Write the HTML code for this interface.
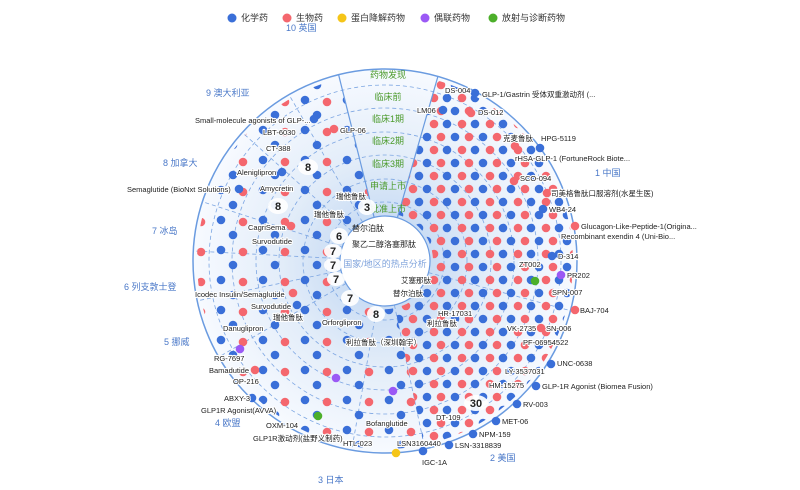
<!DOCTYPE html>
<html><head><meta charset="utf-8"><style>
html,body{margin:0;padding:0;background:#fff;width:800px;height:490px;overflow:hidden}
svg{display:block;font-family:"Liberation Sans","Noto Sans CJK SC",sans-serif}
.l{font-size:7.5px;fill:#222;stroke:#fff;stroke-width:2.2px;paint-order:stroke;stroke-linejoin:round}
.c{font-size:9px;fill:#4a78c8}
.s{font-size:9px;fill:#4a9a2a;text-anchor:middle}
.b{font-size:11px;font-weight:bold;fill:#222;text-anchor:middle}
</style></head><body>
<svg width="800" height="490" viewBox="0 0 800 490">
<defs>
<radialGradient id="rg" cx="385" cy="261" r="192" gradientUnits="userSpaceOnUse">
<stop offset="0.22" stop-color="#c9dcf4"/><stop offset="0.55" stop-color="#e3edf9"/><stop offset="1" stop-color="#f7faff"/>
</radialGradient>
<pattern id="pd" x="0" y="0" width="28" height="26" patternUnits="userSpaceOnUse">
<circle cx="7" cy="7" r="4.3" fill="#3a6fd8"/><circle cx="21" cy="7" r="4.3" fill="#f4676e"/>
<circle cx="14" cy="20" r="4.3" fill="#f4676e"/><circle cx="27" cy="20" r="4.3" fill="#3a6fd8"/><circle cx="-1" cy="20" r="4.3" fill="#3a6fd8"/>
</pattern>
<pattern id="ps" x="3" y="2" width="42" height="30" patternUnits="userSpaceOnUse">
<circle cx="8" cy="8" r="4.3" fill="#3a6fd8"/><circle cx="30" cy="10" r="4.3" fill="#f4676e"/><circle cx="20" cy="23" r="4.3" fill="#3a6fd8"/>
</pattern>
</defs>
<g font-size="9" fill="#333">
<circle cx="232" cy="18" r="4.5" fill="#3a6fd8"/><text x="241" y="21">化学药</text>
<circle cx="287" cy="18" r="4.5" fill="#f4676e"/><text x="296" y="21">生物药</text>
<circle cx="342" cy="18" r="4.5" fill="#f5c518"/><text x="351" y="21">蛋白降解药物</text>
<circle cx="425" cy="18" r="4.5" fill="#9b59f5"/><text x="434" y="21">偶联药物</text>
<circle cx="493" cy="18" r="4.5" fill="#4caf2a"/><text x="502" y="21">放射与诊断药物</text>
</g>
<circle cx="385" cy="261" r="192" fill="url(#rg)" stroke="#6a9be0" stroke-width="1.5"/>
<g fill="none" stroke="#7da6e2" stroke-width="0.8" stroke-dasharray="4,3">
<circle cx="385" cy="261" r="59"/><circle cx="385" cy="261" r="82"/><circle cx="385" cy="261" r="106"/>
<circle cx="385" cy="261" r="129"/><circle cx="385" cy="261" r="153"/><circle cx="385" cy="261" r="176"/>
<line x1="428.5" y1="272.6" x2="570.5" y2="310.7"/>
<line x1="394.4" y1="305" x2="424.9" y2="448.8"/>
<line x1="377.2" y1="305.3" x2="351.7" y2="450.1"/>
<line x1="346" y1="283.5" x2="218.7" y2="357"/>
<line x1="341" y1="270.4" x2="197.2" y2="300.9"/>
<line x1="340.1" y1="258.6" x2="193.3" y2="251"/>
<line x1="342.2" y1="247.1" x2="202.4" y2="201.7"/>
<line x1="351.6" y1="230.9" x2="242.3" y2="132.5"/>
<line x1="362.5" y1="222" x2="289" y2="94.7"/>
</g>
<path d="M398.2 214.9 L436.8 80.3 A188 188 0 0 1 424.1 444.9 L395 308 A48 48 0 0 0 398.2 214.9 Z" fill="url(#pd)"/>
<path d="M395 308 L424.1 444.9 A188 188 0 0 1 339.5 78.6 L373.4 214.4 A48 48 0 0 0 395 308 Z" fill="url(#ps)"/>
<g stroke="#6a9be0" stroke-width="1.2">
<line x1="374.1" y1="217.3" x2="338.6" y2="74.7"/><line x1="397.4" y1="217.7" x2="437.9" y2="76.4"/>
</g>
<circle cx="385" cy="261" r="45" fill="#fff" stroke="#6a9be0" stroke-width="1.2"/>
<g>
<circle cx="475" cy="93" r="4.3" fill="#3a6fd8"/><circle cx="471" cy="113" r="4.3" fill="#f4676e"/><circle cx="443" cy="110" r="4.3" fill="#3a6fd8"/>
<circle cx="515" cy="146" r="4.3" fill="#f4676e"/><circle cx="540" cy="148" r="4.3" fill="#3a6fd8"/><circle cx="514" cy="181" r="4.3" fill="#f4676e"/>
<circle cx="547" cy="193" r="4.3" fill="#f4676e"/><circle cx="543" cy="209" r="4.3" fill="#3a6fd8"/><circle cx="575" cy="226" r="4.3" fill="#f4676e"/>
<circle cx="552" cy="256" r="4.3" fill="#3a6fd8"/><circle cx="561" cy="275" r="4.3" fill="#9b59f5"/><circle cx="535" cy="281" r="4.3" fill="#4caf2a"/>
<circle cx="575" cy="310" r="4.3" fill="#f4676e"/><circle cx="541" cy="328" r="4.3" fill="#f4676e"/><circle cx="551" cy="364" r="4.3" fill="#3a6fd8"/>
<circle cx="536" cy="386" r="4.3" fill="#3a6fd8"/><circle cx="517" cy="404" r="4.3" fill="#3a6fd8"/><circle cx="496" cy="421" r="4.3" fill="#3a6fd8"/>
<circle cx="473" cy="434" r="4.3" fill="#3a6fd8"/><circle cx="449" cy="445" r="4.3" fill="#3a6fd8"/><circle cx="423" cy="451" r="4.3" fill="#3a6fd8"/>
<circle cx="396" cy="453" r="4.3" fill="#f5c518"/><circle cx="314" cy="119" r="4.3" fill="#3a6fd8"/><circle cx="334" cy="129" r="4.3" fill="#f4676e"/>
<circle cx="282" cy="172" r="4.3" fill="#3a6fd8"/><circle cx="239" cy="189" r="4.3" fill="#3a6fd8"/><circle cx="291" cy="226" r="4.3" fill="#f4676e"/>
<circle cx="293" cy="293" r="4.3" fill="#f4676e"/><circle cx="297" cy="305" r="4.3" fill="#3a6fd8"/><circle cx="240" cy="349" r="4.3" fill="#9b59f5"/>
<circle cx="255" cy="370" r="4.3" fill="#f4676e"/><circle cx="252" cy="398" r="4.3" fill="#3a6fd8"/><circle cx="318" cy="416" r="4.3" fill="#4caf2a"/>
<circle cx="336" cy="378" r="4.3" fill="#9b59f5"/><circle cx="393" cy="391" r="4.3" fill="#9b59f5"/>
</g>
<text class="s" x="388" y="78">药物发现</text>
<text class="s" x="388" y="100">临床前</text>
<text class="s" x="388" y="122">临床1期</text>
<text class="s" x="388" y="144">临床2期</text>
<text class="s" x="388" y="167">临床3期</text>
<text class="s" x="388" y="189">申请上市</text>
<text class="s" x="388" y="212">批准上市</text>
<text class="c" x="595" y="176">1 中国</text>
<text class="c" x="490" y="461">2 美国</text>
<text class="c" x="318" y="483">3 日本</text>
<text class="c" x="215" y="426">4 欧盟</text>
<text class="c" x="164" y="345">5 挪威</text>
<text class="c" x="124" y="290">6 列支敦士登</text>
<text class="c" x="152" y="234">7 冰岛</text>
<text class="c" x="163" y="166">8 加拿大</text>
<text class="c" x="206" y="96">9 澳大利亚</text>
<text class="c" x="286" y="31">10 英国</text>
<text x="368" y="231" font-size="8" text-anchor="middle" fill="#222">替尔泊肽</text>
<text x="384" y="247" font-size="8" text-anchor="middle" fill="#222">聚乙二醇洛塞那肽</text>
<text x="385" y="267" font-size="9" text-anchor="middle" fill="#7fa3dc">国家/地区的热点分析</text>
<g fill="#fff" opacity="0.92">
<ellipse cx="367" cy="207" rx="9" ry="8"/><ellipse cx="339" cy="236" rx="9" ry="8"/><ellipse cx="333" cy="251" rx="9" ry="7"/>
<ellipse cx="333" cy="265" rx="9" ry="7"/><ellipse cx="336" cy="279" rx="9" ry="7"/><ellipse cx="350" cy="298" rx="9" ry="8"/>
<ellipse cx="376" cy="314" rx="9" ry="8"/><ellipse cx="308" cy="167" rx="10" ry="8"/><ellipse cx="278" cy="206" rx="10" ry="8"/>
<ellipse cx="476" cy="403" rx="12" ry="8"/>
</g>
<g class="b">
<text x="367" y="211">3</text><text x="339" y="240">6</text><text x="333" y="255">7</text><text x="333" y="269">7</text>
<text x="336" y="283">7</text><text x="350" y="302">7</text><text x="376" y="318">8</text><text x="308" y="171">8</text>
<text x="278" y="210">8</text><text x="476" y="407">30</text>
</g>
<g class="l">
<text x="445" y="93">DS-004</text><text x="482" y="97">GLP-1/Gastrin 受体双重激动剂 (...</text>
<text x="417" y="113">LM06</text><text x="478" y="115">DS-012</text>
<text x="503" y="141">克麦鲁肽</text><text x="541" y="141">HPG-5119</text>
<text x="515" y="161">rHSA-GLP-1 (FortuneRock Biote...</text>
<text x="520" y="181">SCO-094</text>
<text x="551" y="196">司美格鲁肽口服溶剂(水星生医)</text>
<text x="549" y="212">WB4-24</text>
<text x="581" y="229">Glucagon-Like-Peptide-1(Origina...</text>
<text x="561" y="239">Recombinant exendin 4 (Uni-Bio...</text>
<text x="558" y="259">D-314</text>
<text x="519" y="267">ZT002</text>
<text x="567" y="278">PR202</text>
<text x="552" y="295">SPN-007</text>
<text x="580" y="313">BAJ-704</text>
<text x="507" y="331">VK-2735</text><text x="546" y="331">SN-006</text>
<text x="523" y="345">PF-06954522</text>
<text x="557" y="366">UNC-0638</text>
<text x="505" y="374">LY-3537031</text>
<text x="489" y="388">HM-15275</text><text x="542" y="389">GLP-1R Agonist (Biomea Fusion)</text>
<text x="523" y="407">RV-003</text>
<text x="502" y="424">MET-06</text>
<text x="436" y="420">DT-109</text>
<text x="479" y="437">NPM-159</text>
<text x="455" y="448">LSN-3318839</text>
<text x="397" y="446">LSN3160440</text>
<text x="422" y="465">IGC-1A</text>
<text x="366" y="426">Bofanglutide</text>
<text x="343" y="446">HTL-023</text>
<text x="253" y="441">GLP1R激动剂(盐野义制药)</text>
<text x="266" y="428">OXM-104</text>
<text x="201" y="413">GLP1R Agonist(AVVA)</text>
<text x="224" y="401">ABXY-3</text>
<text x="233" y="384">OP-216</text>
<text x="209" y="373">Bamadutide</text>
<text x="214" y="361">RG-7697</text>
<text x="223" y="331">Danuglipron</text>
<text x="273" y="320">瑞他鲁肽</text>
<text x="322" y="325">Orforglipron</text>
<text x="195" y="297">Icodec Insulin/Semaglutide</text>
<text x="251" y="309">Survodutide</text>
<text x="438" y="316">HR-17031</text>
<text x="427" y="326">利拉鲁肽</text>
<text x="346" y="345">利拉鲁肽（深圳翰宇）</text>
<text x="401" y="283">艾塞那肽</text>
<text x="393" y="296">替尔泊肽</text>
<text x="195" y="123">Small-molecule agonists of GLP-...</text>
<text x="340" y="133">GLP-06</text>
<text x="263" y="135">LBT-6030</text>
<text x="266" y="151">CT-388</text>
<text x="237" y="175">Aleniglipron</text>
<text x="127" y="192">Semaglutide (BioNxt Solutions)</text>
<text x="260" y="191">Amycretin</text>
<text x="336" y="199">瑞他鲁肽</text>
<text x="314" y="217">瑞他鲁肽</text>
<text x="248" y="230">CagriSema</text>
<text x="252" y="244">Survodutide</text>
</g>
</svg>
</body></html>
